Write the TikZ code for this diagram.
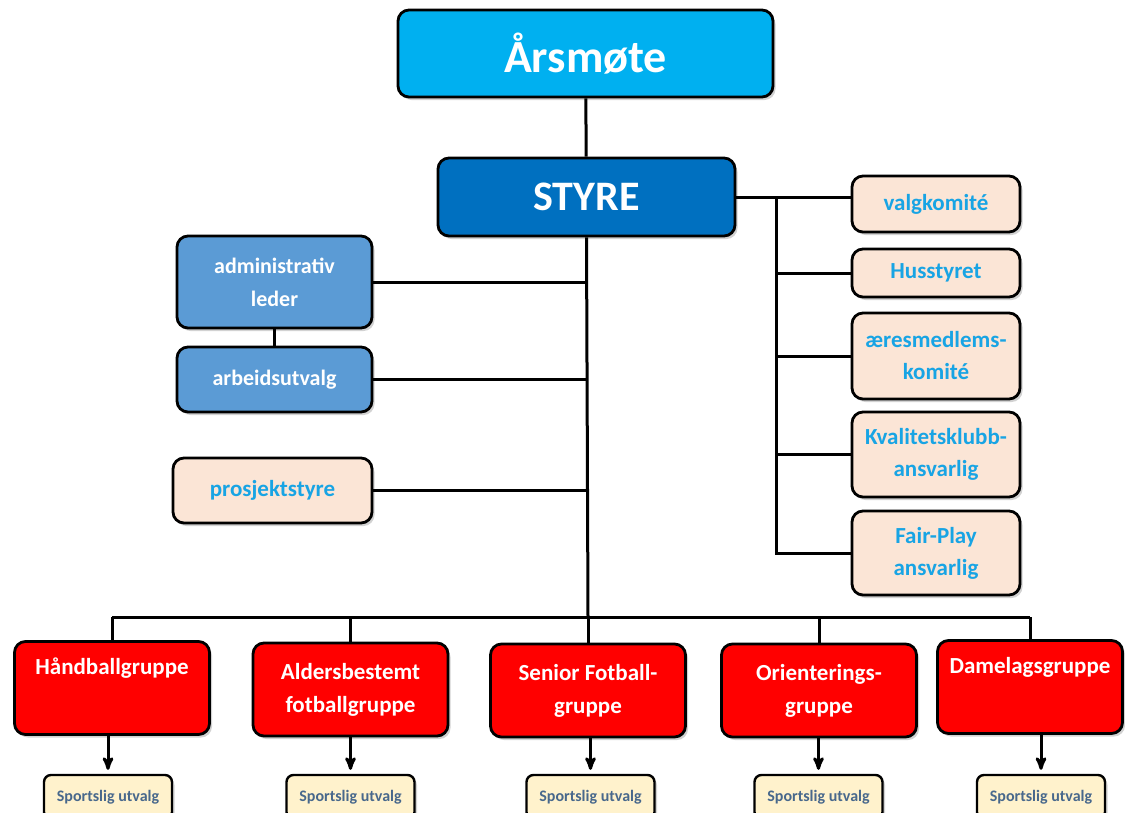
\documentclass[tikz,border=0pt]{standalone}
\usepackage{fontspec}
\setmainfont{Carlito}
\usetikzlibrary{arrows,shadows}
\definecolor{aarsblue}{RGB}{0,176,240}
\definecolor{styreblue}{RGB}{0,112,192}
\definecolor{adminblue}{RGB}{91,155,213}
\definecolor{peach}{RGB}{251,229,214}
\definecolor{peachtext}{RGB}{24,164,228}
\definecolor{groupred}{RGB}{255,0,0}
\definecolor{sportfill}{RGB}{255,242,204}
\definecolor{sporttext}{RGB}{72,104,140}
\tikzset{>=stealth'}
\tikzset{
    unit/.style={draw=black,line width=2.8pt,rounded corners=11pt,align=center,inner sep=0pt,
        drop shadow={shadow xshift=2.5pt,shadow yshift=-3pt,opacity=0.35}},
    topunit/.style={unit,fill=aarsblue,text=white,font=\fontsize{46}{50}\selectfont\bfseries},
    boardunit/.style={unit,fill=styreblue,text=white,font=\fontsize{42}{46}\selectfont\bfseries},
    adminunit/.style={unit,fill=adminblue,text=white,minimum width=195pt,font=\fontsize{22}{33}\selectfont\bfseries},
    committee/.style={unit,fill=peach,text=peachtext,minimum width=168pt,font=\fontsize{23}{32}\selectfont\bfseries},
    groupunit/.style={unit,fill=groupred,text=white,minimum width=195pt,minimum height=93pt,font=\fontsize{23}{33}\selectfont\bfseries},
    sportunit/.style={unit,line width=2.4pt,rounded corners=7pt,fill=sportfill,text=sporttext,minimum width=128pt,minimum height=44pt,
        font=\fontsize{16}{18}\selectfont\bfseries},
    link/.style={draw=black,line width=3pt}
}

\begin{document}
\begin{tikzpicture}[x=1pt,y=-1pt]
    \useasboundingbox[fill=white] (0,0) rectangle (1125,812);
    % top of the organisation
    \node[topunit,minimum width=375pt,minimum height=87pt] (aars) at (585.5,53.5) {Årsmøte};
    \node[boardunit,minimum width=297pt,minimum height=78pt] (styre) at (586.5,197) {STYRE};
    % left side
    \node[adminunit,minimum height=92pt] (admin) at (274.5,282) {administrativ\\leder};
    \node[adminunit,minimum height=65pt] (arbeid) at (274.5,379.5) {arbeidsutvalg};
    \node[committee,minimum width=199pt,minimum height=65pt] (prosjekt) at (272.5,490.5) {prosjektstyre};
    % right side
    \node[committee,minimum height=56pt] (valg) at (936,204) {valgkomité};
    \node[committee,minimum height=48pt] (hus) at (936,273) {Husstyret};
    \node[committee,minimum height=86pt] (aeres) at (936,356) {æresmedlems-\\komité};
    \node[committee,minimum height=85pt] (kval) at (936,454.5) {Kvalitetsklubb-\\ansvarlig};
    \node[committee,minimum height=84pt] (fair) at (936,553) {Fair-Play\\ansvarlig};
    % groups
    \node[groupunit] (hand) at (112,688) {Håndballgruppe\\\strut};
    \node[groupunit] (alder) at (350.5,689.5) {Aldersbestemt\\fotballgruppe};
    \node[groupunit] (senior) at (588,690.5) {Senior Fotball-\\gruppe};
    \node[groupunit] (orient) at (819,690.5) {Orienterings-\\gruppe};
    \node[groupunit,minimum width=185pt] (dame) at (1030,687) {Damelagsgruppe\\\strut};
    \node[sportunit] (sp1) at (108,797) {Sportslig utvalg};
    \node[sportunit] (sp2) at (350.5,797) {Sportslig utvalg};
    \node[sportunit] (sp3) at (590.5,797) {Sportslig utvalg};
    \node[sportunit] (sp4) at (818.5,797) {Sportslig utvalg};
    \node[sportunit] (sp5) at (1041,797) {Sportslig utvalg};
    \coordinate (bus) at (588,617);
    \coordinate (spine) at (776,0);
    % connectors
    \path[link] (aars) -- (styre);
    \path[link] (styre.south) -- (bus);
    \path[link] (bus -| hand.north) -- (bus -| dame.north);
    \foreach \g in {hand,alder,senior,orient,dame}
        \path[link] (bus -| \g.north) -- (\g.north);
    \foreach \l in {admin,arbeid,prosjekt}
        \path[link] (\l.east) -- (\l.east -| styre.south);
    \path[link] (admin.south) -- (arbeid.north);
    \path[link] (styre.east) -- (styre.east -| valg.west);
    \path[link] (styre.east -| spine) -- (fair.west -| spine) -- (fair.west);
    \foreach \r in {hus,aeres,kval}
        \path[link] (\r.west -| spine) -- (\r.west);
    \foreach \g/\s in {hand/sp1,alder/sp2,senior/sp3,orient/sp4,dame/sp5}
        \path[link,->,shorten >=4pt] (\g.south -| \s.north) -- (\s.north);
\end{tikzpicture}
\end{document}
